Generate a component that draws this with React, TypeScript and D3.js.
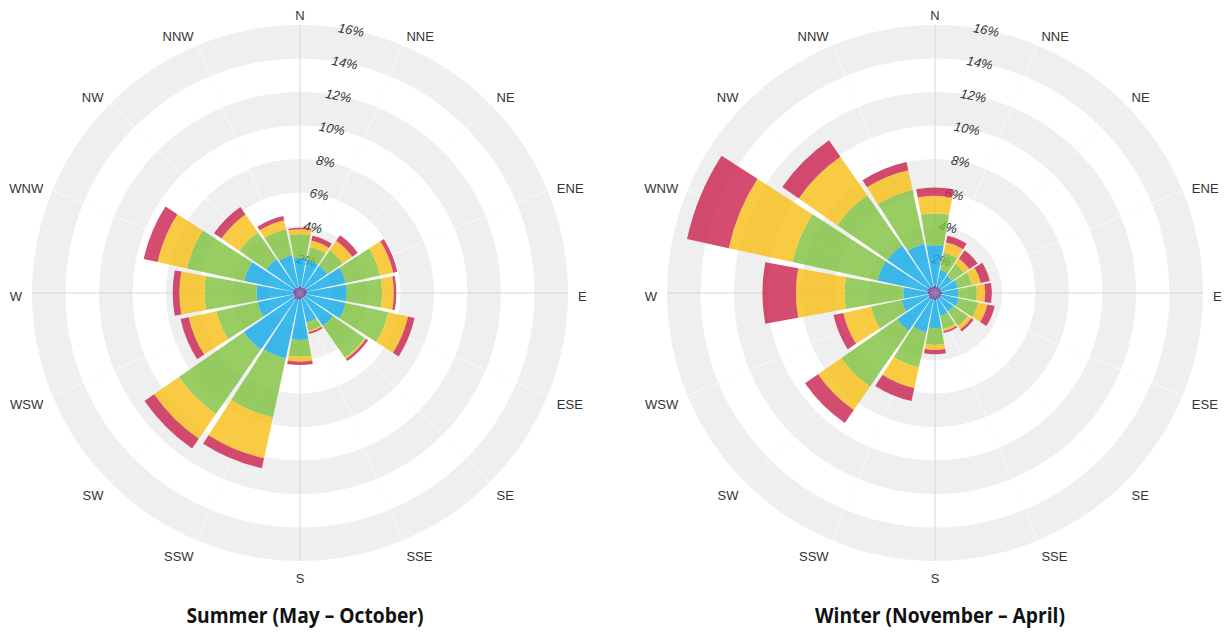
import React from "react";
import * as d3 from "d3";

const DIRECTIONS = ["N","NNE","NE","ENE","E","ESE","SE","SSE","S","SSW","SW","WSW","W","WNW","NW","NNW"];
const SPEED_BINS = ["calm", "light", "moderate", "fresh", "strong"];
const BIN_COLORS = ["#5a2a8c", "#14aae8", "#80c240", "#f8c018", "#cc2552"];
const RING_TICKS = [2, 4, 6, 8, 10, 12, 14, 16];
const GRAY_BANDS: [number, number][] = [[2, 4], [6, 8], [10, 12], [14, 16]];

// Summer (May – October), % of time per direction and speed bin
const SUMMER_CALM = [0.4, 0.35, 0.4, 0.45, 0.4, 0.4, 0.35, 0.35, 0.4, 0.45, 0.45, 0.4, 0.4, 0.45, 0.4, 0.35];
const SUMMER_LIGHT = [1.7, 1.65, 1.6, 2.35, 2.4, 2.4, 2.05, 1.45, 2.4, 3.55, 3.65, 2.2, 2.2, 2.95, 2.05, 1.95];
const SUMMER_MODERATE = [1.4, 0.8, 1.1, 2.1, 2.1, 2.6, 2.3, 0.5, 1.0, 3.6, 4.7, 2.5, 3.1, 3.5, 1.95, 1.6];
const SUMMER_FRESH = [0.3, 0.4, 0.7, 0.8, 0.7, 1.2, 0.1, 0.1, 0.3, 2.5, 1.8, 1.7, 1.5, 1.8, 1.3, 0.55];
const SUMMER_STRONG = [0.1, 0.3, 0.4, 0.25, 0.15, 0.4, 0.15, 0.1, 0.2, 0.6, 0.7, 0.5, 0.4, 0.85, 0.55, 0.25];

// Winter (November – April)
const WINTER_CALM = [0.45, 0.4, 0.4, 0.4, 0.45, 0.4, 0.4, 0.4, 0.45, 0.4, 0.45, 0.4, 0.45, 0.5, 0.45, 0.4];
const WINTER_LIGHT = [2.4, 1.0, 0.85, 1.0, 0.95, 1.05, 0.95, 1.0, 1.65, 2.0, 2.3, 1.65, 1.45, 3.0, 3.0, 2.6];
const WINTER_MODERATE = [1.9, 1.05, 0.85, 0.85, 1.1, 1.2, 1.05, 0.8, 1.0, 2.15, 4.05, 1.85, 3.5, 5.2, 3.65, 3.3];
const WINTER_FRESH = [1.05, 0.65, 0.4, 0.55, 0.5, 0.55, 0.25, 0.15, 0.3, 1.25, 1.7, 1.7, 2.9, 3.9, 2.8, 1.2];
const WINTER_STRONG = [0.5, 0.4, 0.6, 0.55, 0.4, 0.45, 0.15, 0.1, 0.25, 0.8, 0.95, 0.6, 2.0, 2.55, 1.2, 0.5];

const SUMMER = [SUMMER_CALM, SUMMER_LIGHT, SUMMER_MODERATE, SUMMER_FRESH, SUMMER_STRONG];
const WINTER = [WINTER_CALM, WINTER_LIGHT, WINTER_MODERATE, WINTER_FRESH, WINTER_STRONG];

const W = 1226;
const H = 633;
const R_MAX = 268;
const DEG = Math.PI / 180;

interface RoseProps {
  cx: number;
  cy: number;
  series: number[][];
  title: string;
  titleWidth: number;
}

const WindRose: React.FC<RoseProps> = ({ cx, cy, series, title, titleWidth }) => {
  const r = d3.scaleLinear().domain([0, 16]).range([0, R_MAX]);
  const angle = d3.scaleBand<string>()
    .domain(DIRECTIONS)
    .range([-Math.PI / 16, 2 * Math.PI - Math.PI / 16])
    .paddingInner(0.09)
    .paddingOuter(0.045);

  const rows = DIRECTIONS.map((dir, i) => {
    const row: Record<string, number | string> = { dir };
    SPEED_BINS.forEach((b, k) => { row[b] = series[k][i]; });
    return row;
  });
  const stacked = d3.stack<Record<string, number | string>>().keys(SPEED_BINS)(rows as any);

  const arc = d3.arc<any>();
  const bandArc = (a: number, b: number) =>
    arc({ innerRadius: r(a), outerRadius: r(b), startAngle: 0, endAngle: 2 * Math.PI });

  return (
    <g>
      <g transform={`translate(${cx},${cy})`}>
        {/* Alternating grey rings */}
        {GRAY_BANDS.map(([a, b]) => (
          <path key={a} d={bandArc(a, b) ?? ""} fill="#efefef" />
        ))}
        {/* Spokes */}
        {DIRECTIONS.map((d, i) => {
          const t = i * 22.5 * DEG;
          const main = i % 4 === 0;
          return (
            <line key={d} x1={0} y1={0}
              x2={R_MAX * Math.sin(t)} y2={-R_MAX * Math.cos(t)}
              stroke={main ? "#d6d6d6" : "#fafafa"} strokeWidth={1} />
          );
        })}
        {/* Ring labels, under the semi-transparent bars */}
        {RING_TICKS.map(v => {
          const t = 11 * DEG;
          return (
            <text key={v} x={r(v) * Math.sin(t)} y={-r(v) * Math.cos(t)}
              transform={`rotate(11 ${r(v) * Math.sin(t)} ${-r(v) * Math.cos(t)})`}
              textAnchor="middle" dy="0.35em" fontSize={13} fontStyle="italic"
              fontFamily="'Liberation Sans', Arial, sans-serif" fill="#333">
              {v}%
            </text>
          );
        })}
        {/* Stacked bars */}
        {stacked.map((layer, k) => (
          <g key={layer.key} fill={BIN_COLORS[k]} fillOpacity={0.82}>
            {layer.map((seg, i) => {
              const a0 = angle(DIRECTIONS[i])!;
              return (
                <path key={i} d={arc({
                  innerRadius: r(seg[0]), outerRadius: r(seg[1]),
                  startAngle: a0, endAngle: a0 + angle.bandwidth(),
                }) ?? ""} />
              );
            })}
          </g>
        ))}
        {/* Direction labels */}
        {DIRECTIONS.map((d, i) => {
          const t = i * 22.5 * DEG;
          const s = Math.sin(t);
          const c = Math.cos(t);
          const R = 278;
          const anchor = s > 0.1 ? "start" : s < -0.1 ? "end" : "middle";
          return (
            <text key={d} x={R * s} y={-R * c + (1 - c) * 3.5} dy="0.35em"
              textAnchor={anchor} fontSize={13}
              fontFamily="'Liberation Sans', Arial, sans-serif" fill="#333">
              {d}
            </text>
          );
        })}
      </g>
      <text x={cx + 5} y={623} textAnchor="middle" fontSize={22} fontWeight={700}
        fontFamily="'Open Sans', sans-serif" fill="#111"
        textLength={titleWidth} lengthAdjust="spacingAndGlyphs">
        {title}
      </text>
    </g>
  );
};

export default function App() {
  return (
    <div style={{ position: "absolute", left: 0, top: 0, background: "#fff" }}>
      <svg width={W} height={H} style={{ display: "block" }}>
        <rect width={W} height={H} fill="#fff" />
        <WindRose cx={300} cy={293} series={SUMMER} title="Summer (May – October)" titleWidth={237} />
        <WindRose cx={935} cy={293} series={WINTER} title="Winter (November – April)" titleWidth={250} />
      </svg>
    </div>
  );
}
